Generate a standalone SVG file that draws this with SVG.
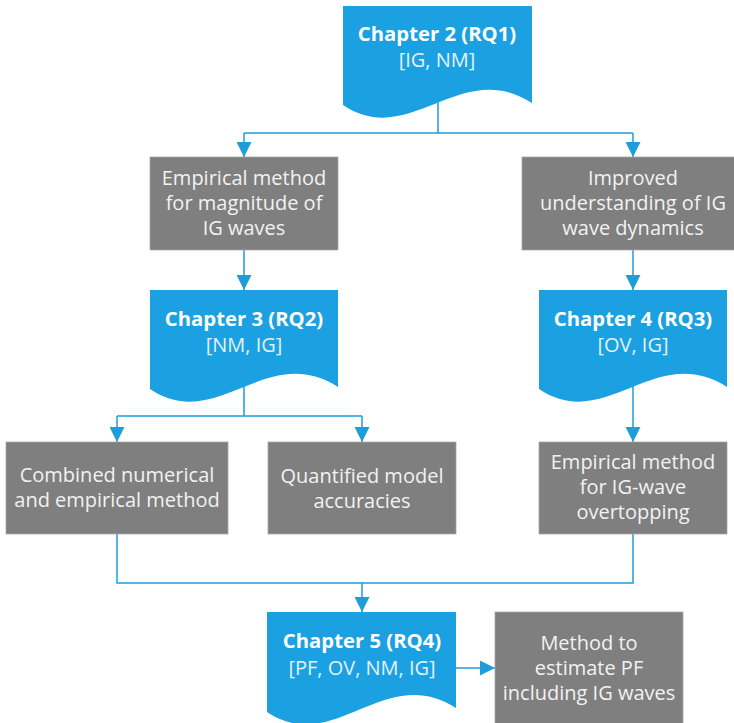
<svg xmlns="http://www.w3.org/2000/svg" width="734" height="723" viewBox="0 0 734 723">
<defs>
<style>
.doc{fill:#1ba1e2;}
.box{fill:#7f7f7f;stroke:#a6a6a6;stroke-width:0.75;}
.t{font-family:"Open Sans","Noto Sans","Liberation Sans",sans-serif;font-size:20px;text-anchor:middle;}
.g{fill:#f2f2f2;}
.h{fill:#ffffff;font-weight:bold;font-size:20.3px;}
.s{fill:#e3f1fb;}
.ln{fill:none;stroke:#1f9ddb;stroke-width:1.5;}
</style>
<marker id="ah" viewBox="0 0 10 10" refX="10" refY="5" markerWidth="15" markerHeight="15" markerUnits="userSpaceOnUse" orient="auto">
<path d="M0,0 L10,5 L0,10 Z" fill="#1f9ddb"/>
</marker>
</defs>
<rect width="734" height="723" fill="#ffffff"/>

<g id="connectors">
<path class="ln" d="M438,102 V133"/>
<path class="ln" d="M244,133 H633"/>
<path class="ln" d="M244,133 V157" marker-end="url(#ah)"/>
<path class="ln" d="M633,133 V157" marker-end="url(#ah)"/>
<path class="ln" d="M244,250 V290" marker-end="url(#ah)"/>
<path class="ln" d="M633,250 V290" marker-end="url(#ah)"/>
<path class="ln" d="M244,386 V416"/>
<path class="ln" d="M117,416 H362"/>
<path class="ln" d="M117,416 V442" marker-end="url(#ah)"/>
<path class="ln" d="M362,416 V442" marker-end="url(#ah)"/>
<path class="ln" d="M633,386 V442" marker-end="url(#ah)"/>
<path class="ln" d="M117,534 V583 H633 V534"/>
<path class="ln" d="M362,583 V612" marker-end="url(#ah)"/>
<path class="ln" d="M456,668 H495" marker-end="url(#ah)"/>
</g>

<g id="ch2">
<path class="doc" d="M343,6 H532 V103 C460,57 410,150 343,105 Z"/>
<text class="t h" x="437" y="41">Chapter 2 (RQ1)</text>
<text class="t s" x="437" y="67">[IG, NM]</text>
</g>

<g id="n-empirical-magnitude">
<rect class="box" x="150" y="157" width="188" height="93"/>
<text class="t g" x="244" y="185">Empirical method</text>
<text class="t g" x="244" y="210">for magnitude of</text>
<text class="t g" x="244" y="235">IG waves</text>
</g>

<g id="n-improved">
<rect class="box" x="522" y="157" width="222" height="93"/>
<text class="t g" x="633" y="185">Improved</text>
<text class="t g" x="633" y="210">understanding of IG</text>
<text class="t g" x="633" y="235">wave dynamics</text>
</g>

<g id="ch3">
<path class="doc" d="M150,290 H338 V387 C266,341 217,434 150,389 Z"/>
<text class="t h" x="244" y="326">Chapter 3 (RQ2)</text>
<text class="t s" x="244" y="352">[NM, IG]</text>
</g>

<g id="ch4">
<path class="doc" d="M539,290 H727 V387 C655,341 606,434 539,389 Z"/>
<text class="t h" x="633" y="326">Chapter 4 (RQ3)</text>
<text class="t s" x="633" y="352">[OV, IG]</text>
</g>

<g id="n-combined">
<rect class="box" x="6" y="442" width="222" height="92"/>
<text class="t g" x="117" y="482">Combined numerical</text>
<text class="t g" x="117" y="507">and empirical method</text>
</g>

<g id="n-quantified">
<rect class="box" x="268" y="442" width="188" height="92"/>
<text class="t g" x="362" y="483">Quantified model</text>
<text class="t g" x="362" y="508">accuracies</text>
</g>

<g id="n-overtopping">
<rect class="box" x="539" y="442" width="188" height="92"/>
<text class="t g" x="633" y="469">Empirical method</text>
<text class="t g" x="633" y="494">for IG-wave</text>
<text class="t g" x="633" y="519">overtopping</text>
</g>

<g id="ch5">
<path class="doc" d="M267,612 H456 V708 C384,662 334,757 267,712 Z"/>
<text class="t h" x="362" y="648">Chapter 5 (RQ4)</text>
<text class="t s" x="362" y="675">[PF, OV, NM, IG]</text>
</g>

<g id="n-method-pf">
<rect class="box" x="495" y="612" width="188" height="113"/>
<text class="t g" x="589" y="650">Method to</text>
<text class="t g" x="589" y="675">estimate PF</text>
<text class="t g" x="589" y="700">including IG waves</text>
</g>
</svg>
